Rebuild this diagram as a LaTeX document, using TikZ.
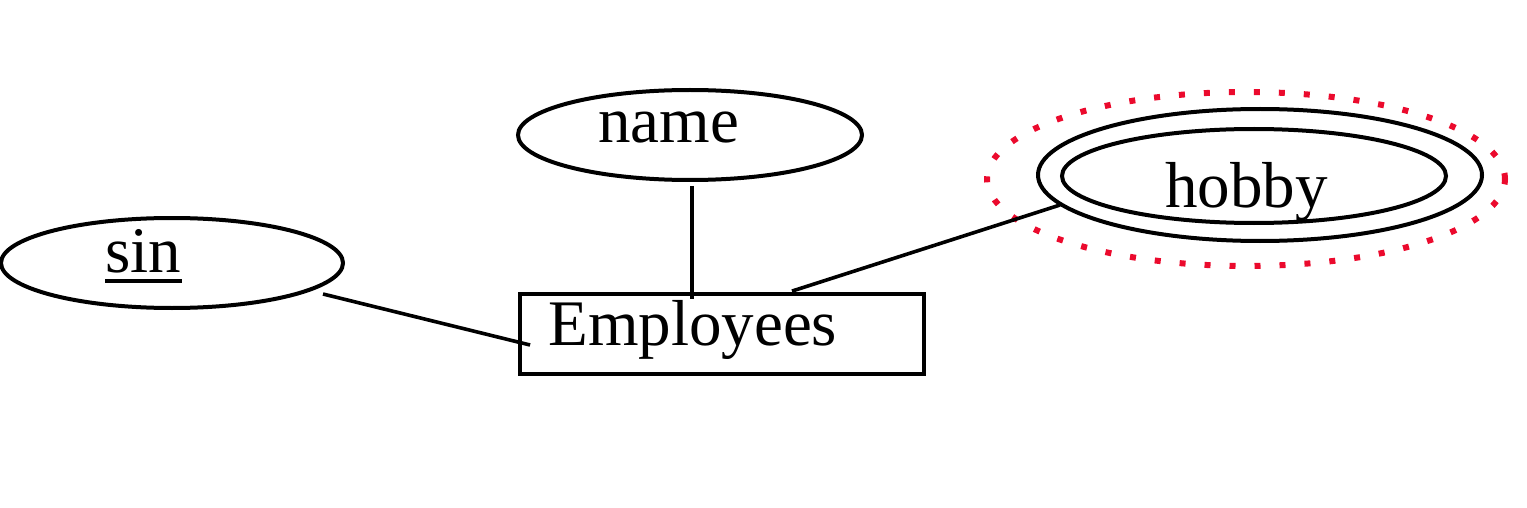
\documentclass[tikz,border=0pt]{standalone}
\usepackage{fontspec}
\setmainfont{Liberation Serif}
\usetikzlibrary{shapes.geometric}
\definecolor{dotred}{RGB}{235,10,45}
\begin{document}
\begin{tikzpicture}[x=0.5pt,y=-0.5pt,
  ent/.style={draw, line width=1.9pt, rectangle, inner sep=0pt, minimum width=202pt, minimum height=40pt},
  attr/.style={draw, line width=2pt, ellipse, inner sep=0pt},
  lbl/.style={inner sep=0pt, font=\fontsize{32.5pt}{38pt}\selectfont, anchor=base west},
  conn/.style={line width=1.8pt},
  hl/.style={draw=dotred, line width=3pt, ellipse, inner sep=0pt, dash pattern=on 3pt off 9.5pt}
]
\useasboundingbox (0,0) rectangle (1527,508);
% entity
\node[ent] (emp) at (722,334) {};
\node[lbl] (emplbl) at (548,345) {Employees};
% attributes
\node[attr, minimum width=171pt, minimum height=45pt] (sin) at (172,263) {};
\node[lbl] (sinlbl) at (105,272) {sin};
\draw[line width=2pt] ([yshift=-4.5pt]sinlbl.base west) -- ([yshift=-4.5pt]sinlbl.base east);
\node[attr, minimum width=172pt, minimum height=45pt] (name) at (690,135) {};
\node[lbl] (namelbl) at (598,142) {name};
\node[hl, minimum width=259pt, minimum height=87pt] (hl) at (1246,179) {};
\node[attr, minimum width=222pt, minimum height=66pt] (hobby) at (1260,175) {};
\node[attr, minimum width=192pt, minimum height=47pt] (hobbyin) at (1254,176) {};
\node[lbl] (hobbylbl) at (1165,207) {hobby};
% connectors
\draw[conn] ([shift={(151,31)}]sin.center) -- ([shift={(12,11)}]emp.west);
\draw[conn] ([shift={(2,4)}]name.south) -- ([shift={(-30,7)}]emp.north);
\draw[conn] ([shift={(-200,30)}]hobby.center) -- ([shift={(70,-1)}]emp.north);
\end{tikzpicture}
\end{document}
